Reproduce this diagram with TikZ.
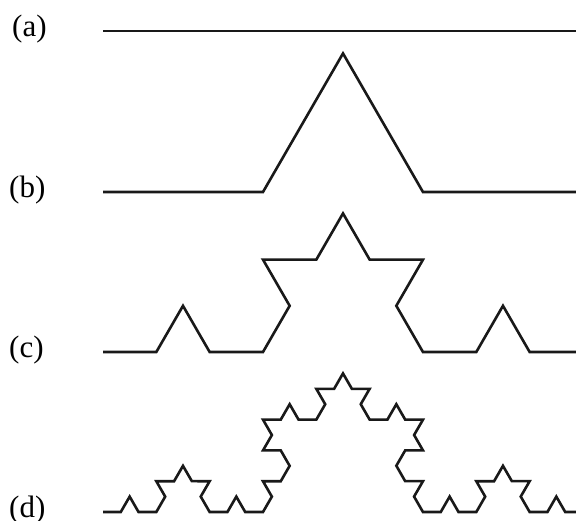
\documentclass[tikz,border=0pt]{standalone}
\usepackage{fontspec}
\setmainfont{Liberation Serif}
\usetikzlibrary{decorations.fractals}

\begin{document}
\begin{tikzpicture}[x=1pt,y=-1pt,
    curve/.style={line width=2.6pt,line join=miter,black!90},
    lbl/.style={anchor=base west,inner sep=0pt,font=\fontsize{31}{36}\selectfont}]
  \useasboundingbox (0,0) rectangle (576,521);
  \clip (0,0) rectangle (576,521);
  % labels
  \node[lbl] (la) at (12,36.5) {(a)};
  \node[lbl] (lb) at (9,197.5) {(b)};
  \node[lbl] (lc) at (9,357.5) {(c)};
  \node[lbl] (ld) at (9,517.5) {(d)};
  % end points of each curve
  \foreach \n/\y in {a/31,b/192,c/352,d/512}{
    \coordinate (\n0) at (103,\y);
    \coordinate (\n1) at (583,\y);
  }
  % Koch curve, steps 0 to 3
  \draw[curve] (a0) -- (a1);
  \draw[curve,decoration=Koch snowflake] decorate{(b0) -- (b1)};
  \draw[curve,decoration=Koch snowflake] decorate{decorate{(c0) -- (c1)}};
  \draw[curve,decoration=Koch snowflake] decorate{decorate{decorate{(d0) -- (d1)}}};
\end{tikzpicture}
\end{document}
